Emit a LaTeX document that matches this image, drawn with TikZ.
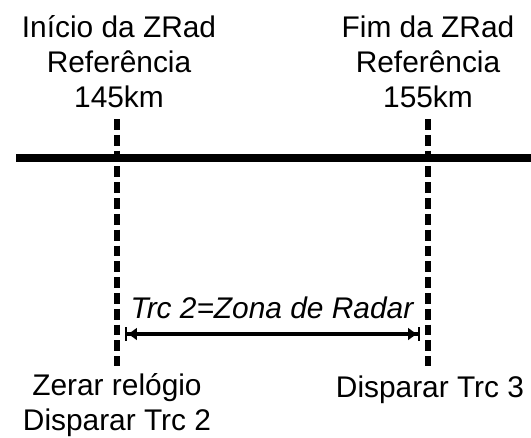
\documentclass[tikz,border=0pt]{standalone}
\usepackage{fontspec}
\setmainfont{Liberation Sans}
\usepackage{tikz}
\usetikzlibrary{arrows.meta,positioning}

\begin{document}
\begin{tikzpicture}[x=0.02cm,y=-0.02cm,
    lbl/.style={align=center,anchor=base,inner sep=0pt,font=\fontsize{17}{19.7}\selectfont},
    marca/.style={line width=3.4pt,dash pattern=on 6.2pt off 2.8pt},
    trilho/.style={line width=4pt},
    cota/.style={line width=2.3pt,{Bar[width=7.6pt,line width=1.2pt]Latex[length=5.5pt,width=7.5pt]}-{Latex[length=5.5pt,width=7.5pt]Bar[width=7.6pt,line width=1.2pt]}}]
  \useasboundingbox (0,0) rectangle (531,437);

  % textos de cima
  \node [lbl] (ini) at (119,107) {Início da ZRad\\Referência\\145km};
  \node [lbl] (fim) at (428,107) {Fim da ZRad\\Referência\\155km};

  % linha e marcas
  \coordinate (e0) at (16,158);
  \coordinate (e1) at (531,158);
  \coordinate (a0) at (117,119);
  \coordinate (a1) at (117,366);
  \coordinate (b0) at (428,119);
  \coordinate (b1) at (428,366);
  \draw [trilho] (e0) -- (e1);
  \draw [marca] (a0) -- (a1);
  \draw [marca] (b0) -- (b1);

  % zona de radar
  \coordinate (z0) at (125,334);
  \coordinate (z1) at (420,334);
  \draw [cota] (z0) -- (z1);
  \node [lbl,font=\fontsize{17}{19.7}\selectfont\itshape] (zona) at (272,318) {Trc 2=Zona de Radar};

  % textos de baixo
  \node [lbl] (zerar) at (117,430) {Zerar relógio\\Disparar Trc 2};
  \node [lbl] (disp) at (430,397) {Disparar Trc 3};
\end{tikzpicture}
\end{document}
